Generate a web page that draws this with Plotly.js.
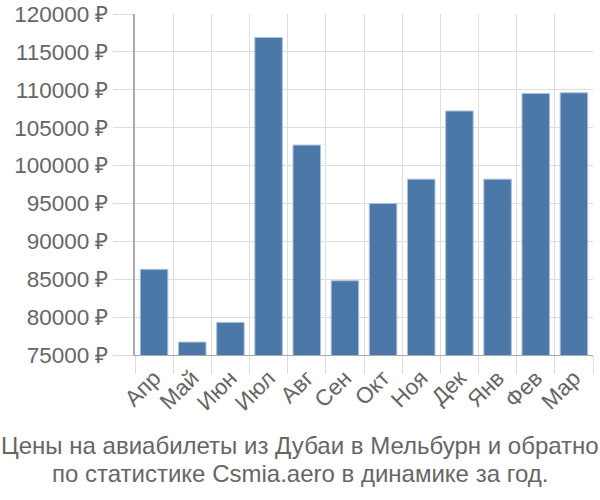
<!DOCTYPE html>
<html>
<head>
<meta charset="utf-8">
<script src="https://cdn.plot.ly/plotly-3.0.1.min.js"></script>
<style>html,body{margin:0;padding:0;background:#fff;}#chart{width:600px;height:500px;}</style>
</head>
<body>
<div id="chart"></div>
<script>
const months = ["Апр","Май","Июн","Июл","Авг","Сен","Окт","Ноя","Дек","Янв","Фев","Мар"];
const prices = [86300, 76700, 79300, 116900, 102700, 84800, 95000, 98200, 107200, 98200, 109500, 109600];
const yTicks = [75000, 80000, 85000, 90000, 95000, 100000, 105000, 110000, 115000, 120000];
const yTickText = yTicks.map(v => v + " ₽");
const titleLines = ["Цены на авиабилеты из Дубаи в Мельбурн и обратно", "по статистике Csmia.aero в динамике за год."];

const trace = {
  type: "bar",
  x: months,
  y: prices,
  marker: {color: "#4c78a8", line: {color: "#a9c0dc", width: 1}},
  hoverinfo: "none"
};

const plotLeft = 135, plotW = 458, plotBottom = 355;
const centerX = (300 - plotLeft) / plotW;

const layout = {
  width: 600, height: 500,
  margin: {l: 135, r: 7, t: 14, b: 145},
  paper_bgcolor: "#fff", plot_bgcolor: "#fff",
  bargap: 0.28,
  font: {family: "Liberation Sans, Arial, sans-serif", color: "#666", size: 22},
  xaxis: {
    type: "category",
    tickangle: -45,
    tickson: "boundaries",
    ticks: "outside", ticklen: 18, tickcolor: "#ddd",
    showgrid: true, gridcolor: "#ddd", gridwidth: 1,
    showline: true, linecolor: "#aaa", linewidth: 1,
    tickfont: {size: 22.5, color: "#666"}
  },
  yaxis: {
    range: [75000, 120000],
    tickvals: yTicks, ticktext: yTickText,
    ticks: "outside", ticklen: 20, tickcolor: "#ddd",
    showgrid: true, gridcolor: "#ddd", gridwidth: 1,
    showline: true, linecolor: "#aaa", linewidth: 2,
    zeroline: false,
    tickfont: {size: 22.5, color: "#666"}
  },
  showlegend: false,
  annotations: titleLines.map((t, i) => ({
    xref: "paper", yref: "paper",
    x: centerX, y: 0,
    yshift: -(445 - plotBottom) - i * 28,
    xanchor: "center", yanchor: "middle",
    text: t,
    showarrow: false,
    font: {size: 24, color: "#666"}
  }))
};

Plotly.newPlot("chart", [trace], layout, {staticPlot: true, displayModeBar: false});
</script>
</body>
</html>
